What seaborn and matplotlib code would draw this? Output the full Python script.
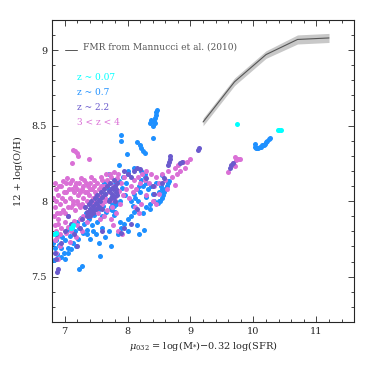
import numpy as np
import pandas as pd
import seaborn as sns
import matplotlib.pyplot as plt
from matplotlib.ticker import MultipleLocator

# FMR relation from Mannucci et al. (2010)
fmr_mu = [9.2, 9.7, 10.2, 10.7, 11.2]
fmr_oh = [8.524, 8.79, 8.97, 9.07, 9.08]
fmr_err = [0.025, 0.025, 0.025, 0.03, 0.03]

# z ~ 0.07
cyan_x = [6.83, 6.86, 7.10, 7.12, 7.14, 9.74, 10.39, 10.41, 10.43]
cyan_y = [7.78, 7.79, 7.82, 7.83, 7.84, 8.51, 8.47, 8.47, 8.47]

# z ~ 0.7
blue_x = [6.82, 6.83, 6.85, 6.86, 6.88, 6.91, 6.94, 6.96, 6.99, 7.01, 7.04, 7.06, 7.09, 7.11,
          7.13, 7.16, 7.19, 7.21, 7.23, 7.26, 7.29, 7.31, 7.34, 7.36, 7.39, 7.41, 7.44, 7.46,
          7.49, 7.51, 7.54, 7.56, 7.59, 7.61, 7.64, 7.66, 7.69, 7.71, 7.73, 7.76, 7.78, 7.81,
          7.83, 7.86, 7.88, 7.91, 7.93, 7.96, 7.98, 8.01,
          7.74, 7.76, 7.78, 7.80, 7.76, 7.79, 7.81,
          6.95, 7.00, 7.23, 7.28, 7.57, 7.73, 7.40, 7.50, 7.45, 7.60, 7.65, 7.55, 7.70, 7.85,
          7.90, 7.95, 8.00, 8.05, 8.10, 8.15, 8.18, 8.26, 8.25, 8.30, 8.35, 8.00, 7.88, 7.35,
          7.18, 7.10, 7.05,
          8.05, 8.10, 8.12, 8.15, 8.18, 8.20, 8.22, 8.25, 8.27, 8.30, 8.22, 8.28, 8.32, 8.30,
          8.17, 8.08, 8.38, 8.40, 8.42, 8.36, 8.45,
          8.48, 8.50, 8.52, 8.54, 8.56, 8.58, 8.60, 8.62, 8.64, 8.66, 8.55, 8.53, 8.50,
          8.55, 8.63, 7.86, 7.99, 7.90, 7.90, 8.15, 8.20, 8.22, 8.25, 8.27, 8.40, 8.41, 8.43,
          8.44, 8.45, 8.46, 8.47, 8.42, 8.35, 8.38, 8.00, 8.10, 7.70, 7.62,
          10.02, 10.04, 10.06, 10.08, 10.10, 10.12, 10.14, 10.16, 10.18, 10.20, 10.22, 10.24,
          10.26, 10.03]
blue_y = [7.72, 7.61, 7.69, 7.74, 7.65, 7.71, 7.69, 7.76, 7.66, 7.74, 7.81, 7.69, 7.77, 7.83,
          7.72, 7.80, 7.86, 7.75, 7.82, 7.89, 7.79, 7.85, 7.92, 7.81, 7.88, 7.95, 7.84, 7.91,
          7.99, 7.86, 7.95, 8.02, 7.90, 7.97, 8.05, 7.93, 8.01, 8.08, 7.95, 8.03, 8.11, 7.98,
          8.06, 8.13, 8.00, 8.09, 8.16, 8.04, 8.12, 8.18,
          7.96, 7.94, 7.97, 7.93, 7.99, 7.91, 7.98,
          7.63, 7.62, 7.55, 7.57, 7.64, 7.70, 7.75, 7.78, 7.80, 7.82, 7.76, 7.72, 7.80, 7.78,
          7.82, 7.85, 7.88, 7.90, 7.93, 7.84, 7.78, 7.81, 7.92, 7.96, 7.98, 7.80, 7.86, 7.78,
          7.70, 7.68, 7.66,
          8.00, 8.05, 8.02, 8.08, 8.10, 8.06, 8.14, 8.10, 8.18, 8.12, 8.20, 8.16, 8.08, 8.03,
          8.00, 7.97, 8.10, 8.05, 8.00, 7.95, 8.12,
          7.99, 8.00, 8.00, 8.02, 8.04, 8.06, 8.08, 8.10, 8.12, 8.13, 8.08, 8.10, 8.06,
          8.17, 8.13, 8.24, 8.31, 8.44, 8.40, 8.39, 8.37, 8.35, 8.33, 8.32, 8.42, 8.50, 8.52,
          8.55, 8.57, 8.59, 8.60, 8.53, 8.52, 8.54, 8.20, 8.22, 8.18, 8.12,
          8.36, 8.35, 8.35, 8.35, 8.36, 8.36, 8.37, 8.37, 8.38, 8.39, 8.40, 8.41,
          8.42, 8.38]

# z ~ 2.2
purple_x = [7.32, 7.35, 7.38, 7.40, 7.42, 7.45, 7.48, 7.50, 7.52, 7.55, 7.58, 7.60, 7.62, 7.65,
            7.68, 7.70, 7.72, 7.75, 7.78, 7.80, 7.82, 7.84, 7.42, 7.47, 7.55, 7.36, 7.60, 7.70,
            7.74, 7.76, 7.79, 7.81, 7.83, 7.77, 7.80, 7.50, 7.45, 7.40, 7.52, 7.57,
            6.84, 6.86, 6.88, 6.90, 6.87, 6.95, 7.00, 7.15, 7.20, 7.28, 7.25, 7.05, 7.10, 7.60,
            7.90, 7.95, 8.05, 8.15, 8.00, 8.10, 8.15, 8.20, 8.05, 7.95, 8.30, 8.40, 8.42, 8.55,
            8.58, 8.65, 8.66, 8.67, 8.68, 8.84, 8.86, 9.12, 9.14, 9.63, 9.65, 9.67]
purple_y = [7.96, 7.93, 7.98, 7.95, 8.00, 7.97, 8.02, 7.99, 8.04, 8.01, 8.06, 8.03, 8.08, 8.05,
            8.10, 8.07, 8.12, 8.09, 8.14, 8.10, 8.08, 8.12, 7.92, 7.94, 7.96, 7.90, 7.95, 8.00,
            8.02, 8.05, 8.03, 8.06, 8.04, 8.08, 8.00, 7.95, 7.92, 7.90, 7.98, 8.00,
            7.66, 7.62, 7.53, 7.55, 7.78, 7.72, 7.80, 7.78, 7.70, 7.88, 7.82, 7.90, 7.85, 7.80,
            7.79, 7.82, 7.85, 7.95, 8.18, 8.20, 8.22, 8.21, 8.16, 8.20, 8.15, 8.10, 8.05, 8.12,
            8.15, 8.24, 8.26, 8.28, 8.30, 8.25, 8.26, 8.34, 8.35, 8.22, 8.24, 8.25]

# 3 < z < 4
orchid_x = [7.14, 7.16, 7.19, 7.12, 7.39, 7.22,
            6.82, 6.84, 6.86, 6.88, 6.90, 6.92, 6.95, 6.97, 6.99, 7.01, 7.03, 7.05, 7.07, 7.09,
            7.11, 7.13, 7.15, 7.17, 7.19, 7.21, 7.23, 7.25, 7.27, 7.29, 7.31, 7.33, 7.35, 7.37,
            7.39, 7.41, 7.43, 7.45, 7.47, 7.49,
            6.83, 6.85, 6.87, 6.89, 6.91, 6.93, 6.96, 6.98, 7.00, 7.02, 7.04, 7.06, 7.08, 7.10,
            7.12, 7.14, 7.16, 7.18, 7.20, 7.22, 7.24, 7.26, 7.28, 7.30, 7.32, 7.34, 7.36, 7.38,
            7.40, 7.42, 7.44, 7.46, 7.48,
            6.84, 6.86, 6.90, 6.95, 7.00, 7.05, 7.10, 7.15, 7.20, 7.25, 6.88, 6.93, 7.02, 7.08,
            6.86, 6.89, 6.92, 6.84, 7.18, 7.30, 7.35, 7.40, 7.28,
            7.52, 7.55, 7.58, 7.60, 7.63, 7.65, 7.68, 7.70, 7.72, 7.75, 7.78, 7.80, 7.83, 7.86,
            7.88, 7.90, 7.93, 7.95, 7.98, 7.53, 7.57, 7.62, 7.67, 7.73, 7.77, 7.82, 7.50, 7.85,
            7.92, 7.55, 7.60, 7.66, 7.70, 7.74, 7.79, 7.85, 7.50, 7.45, 7.64, 7.58, 7.74,
            8.02, 8.05, 8.08, 8.10, 8.13, 8.16, 8.20, 8.23, 8.27, 8.30, 8.34, 8.38, 8.42, 8.46,
            8.50, 8.55, 8.60, 8.65, 8.70, 8.75, 8.78, 8.80, 8.84, 8.88, 8.92, 8.95, 9.00, 8.76,
            8.62, 8.40, 8.30, 8.22, 8.12, 8.50, 8.45, 8.18,
            9.59, 9.68, 9.70, 9.72, 9.74, 9.76, 9.79, 9.71, 9.69]
orchid_y = [8.34, 8.33, 8.32, 8.25, 8.28, 8.30,
            8.02, 7.96, 8.08, 7.92, 8.04, 7.98, 8.10, 7.94, 8.06, 8.00, 8.12, 7.96, 8.08, 8.02,
            8.14, 7.98, 8.06, 8.10, 8.00, 8.04, 8.12, 7.96, 8.08, 8.02, 8.14, 8.06, 8.00, 8.10,
            8.04, 8.12, 8.08, 8.02, 8.14, 8.06,
            7.90, 8.12, 8.00, 7.88, 8.10, 7.92, 8.02, 8.13, 7.92, 8.06, 8.15, 7.90, 8.12, 7.96,
            8.08, 8.00, 7.94, 8.12, 8.08, 7.98, 8.06, 8.15, 7.98, 8.10, 7.96, 8.12, 8.06, 7.98,
            8.08, 8.16, 7.96, 8.10, 8.00,
            7.84, 7.80, 7.85, 7.82, 7.86, 7.83, 7.80, 7.87, 7.84, 7.88, 7.76, 7.78, 7.79, 7.73,
            7.66, 7.62, 7.70, 7.74, 7.76, 7.90, 7.86, 7.92, 7.80,
            8.12, 8.04, 8.16, 7.98, 8.10, 8.02, 8.14, 8.06, 8.18, 7.96, 8.10, 8.03, 8.15, 8.07,
            7.98, 8.12, 8.04, 8.16, 8.08, 7.92, 7.88, 7.90, 7.94, 7.88, 7.84, 7.92, 7.96, 7.80,
            7.78, 8.08, 8.14, 8.18, 8.12, 8.16, 8.19, 8.18, 8.04, 7.98, 8.00, 8.10, 8.01,
            8.02, 8.10, 8.06, 8.14, 8.08, 8.16, 8.12, 8.18, 8.14, 8.20, 8.12, 8.18, 8.10, 8.16,
            8.12, 8.18, 8.14, 8.20, 8.16, 8.22, 8.18, 8.24, 8.20, 8.26, 8.22, 8.26, 8.28, 8.11,
            8.08, 8.00, 8.04, 7.98, 7.96, 8.05, 7.98, 7.92,
            8.19, 8.25, 8.23, 8.27, 8.28, 8.28, 8.28, 8.29, 8.24]

labels = ["z ~ 0.07", "z ~ 0.7", "z ~ 2.2", "3 < z < 4"]
colors = ["#00ffff", "#1e90ff", "#6a5acd", "#da70d6"]

df = pd.concat([
    pd.DataFrame({"mu": blue_x, "oh": blue_y, "z": labels[1]}),
    pd.DataFrame({"mu": orchid_x, "oh": orchid_y, "z": labels[3]}),
    pd.DataFrame({"mu": purple_x, "oh": purple_y, "z": labels[2]}),
    pd.DataFrame({"mu": cyan_x, "oh": cyan_y, "z": labels[0]}),
], ignore_index=True)

sns.set_style("ticks")
plt.rcParams['font.family'] = ['DejaVu Serif']
plt.rcParams['mathtext.fontset'] = 'dejavuserif'

fig = plt.figure(figsize=(3.74, 3.74), dpi=100)
ax = fig.add_axes([0.139, 0.139, 0.808, 0.808])

lo = np.array(fmr_oh) - np.array(fmr_err)
hi = np.array(fmr_oh) + np.array(fmr_err)
ax.fill_between(fmr_mu, lo, hi, color="#c8c8c8", lw=0)
sns.lineplot(x=fmr_mu, y=fmr_oh, color="#555555", lw=0.8, ax=ax)

for lab, c in zip([labels[1], labels[3], labels[2], labels[0]],
                  [colors[1], colors[3], colors[2], colors[0]]):
    sub = df[df["z"] == lab]
    sns.scatterplot(data=sub, x="mu", y="oh", color=c, s=13, linewidth=0, ax=ax, legend=False)

ax.set_xlim(6.8, 11.6)
ax.set_ylim(7.2, 9.2)
ax.xaxis.set_major_locator(MultipleLocator(1))
ax.xaxis.set_minor_locator(MultipleLocator(0.2))
ax.yaxis.set_minor_locator(MultipleLocator(0.1))
ax.set_yticks([7.5, 8, 8.5, 9])
ax.set_yticklabels(["7.5", "8", "8.5", "9"])
ax.tick_params(which="both", direction="in", top=True, right=True, labelsize=7, width=0.6)
ax.tick_params(which="major", length=4)
ax.tick_params(which="minor", length=2)
for sp in ax.spines.values():
    sp.set_linewidth(0.8)

ax.set_xlabel(r"$\mu_{032}$ = log(M$_{*}$)$-$0.32 log(SFR)", fontsize=7, labelpad=2)
ax.set_ylabel("12 + log(O/H)", fontsize=7, labelpad=6)

ax.plot([7.0, 7.2], [9.0, 9.0], color="#555555", lw=0.7)
ax.text(7.3, 9.02, "FMR from Mannucci et al. (2010)", fontsize=6.5, color="#555555", va="center")
for i, (lab, c) in enumerate(zip(labels, colors)):
    ax.text(7.2, 8.82 - 0.1 * i, lab, fontsize=6.5, color=c, va="center")

fig.savefig("out.png", dpi=100)
